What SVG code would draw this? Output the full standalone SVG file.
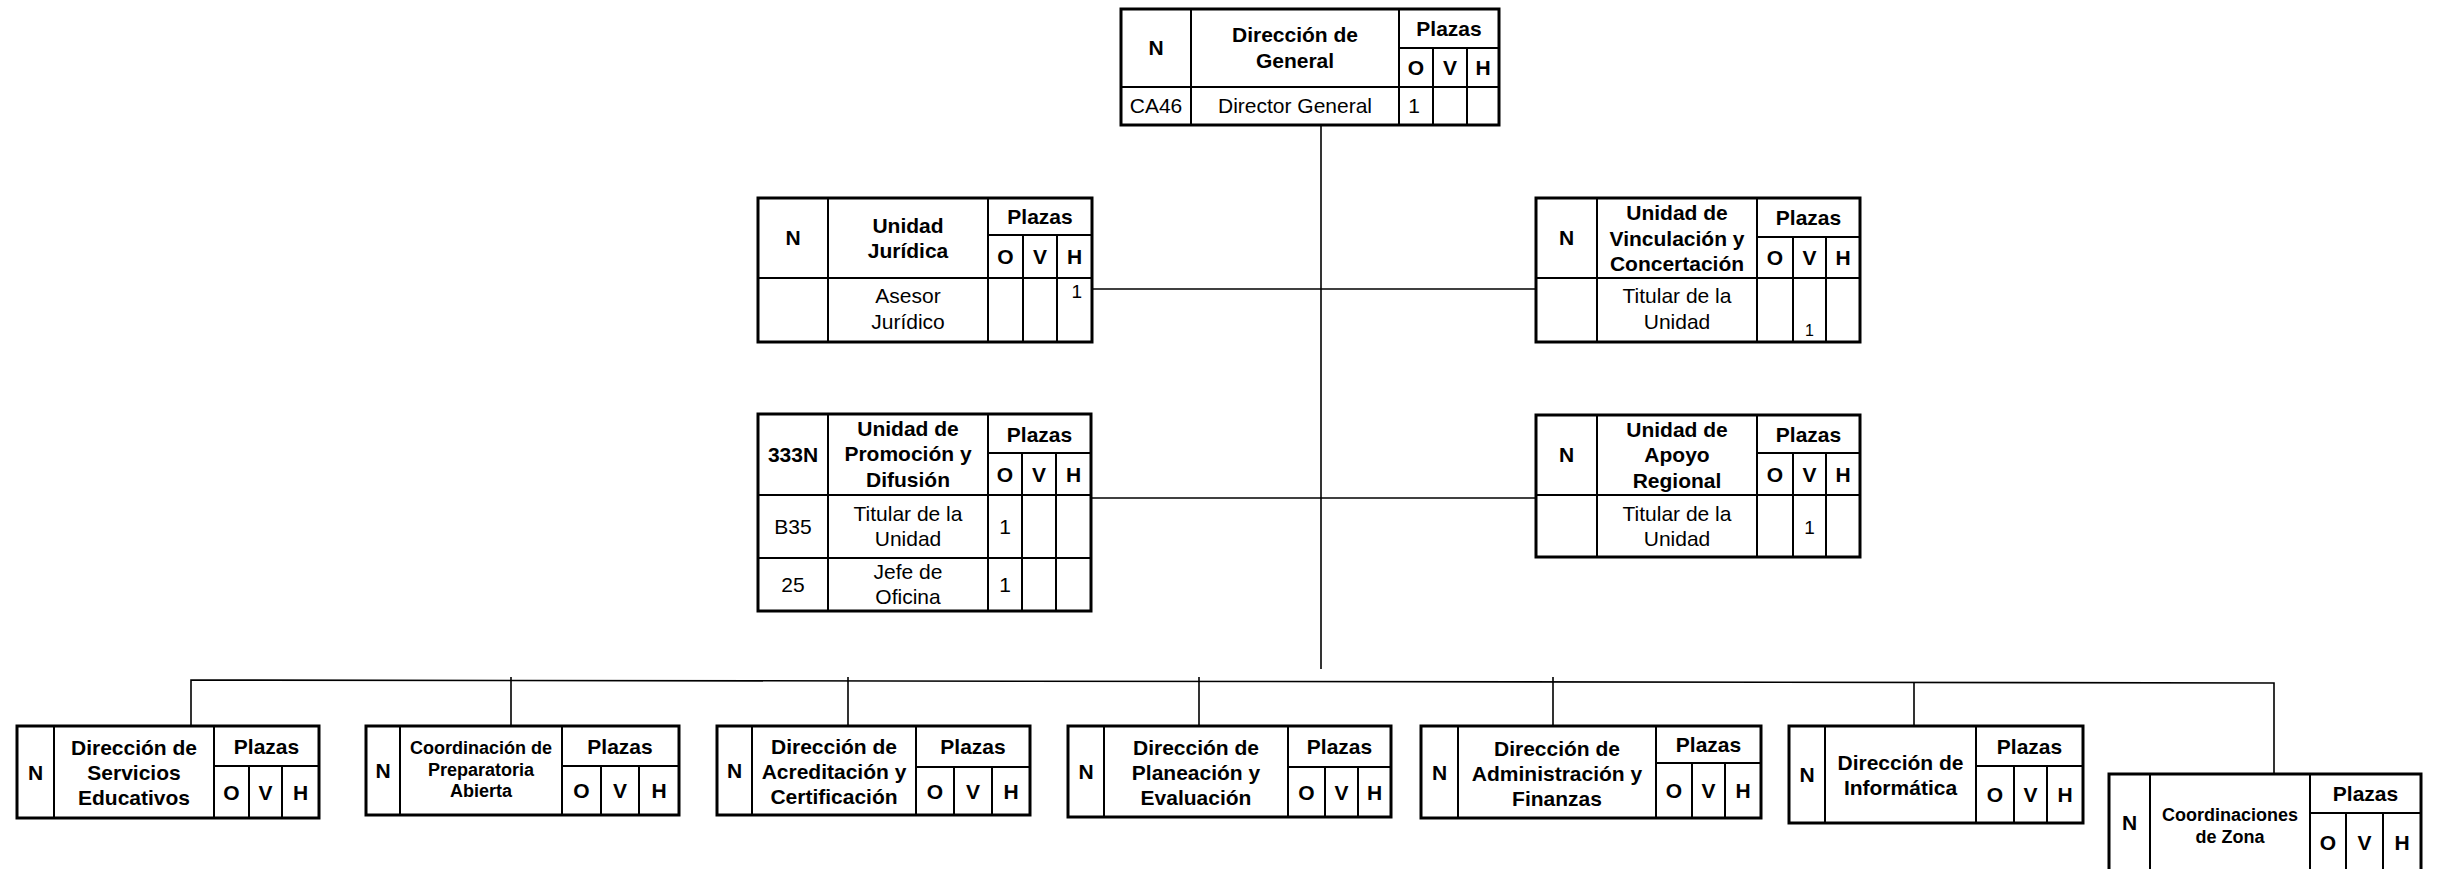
<svg xmlns="http://www.w3.org/2000/svg" width="2441" height="869" viewBox="0 0 2441 869">
<style>
.box{fill:#fff;stroke:#000;stroke-width:3}
.grid{fill:none;stroke:#000;stroke-width:2}
.con{fill:none;stroke:#000;stroke-width:1.6}
text{font-family:"Liberation Sans",Arial,sans-serif;fill:#000;text-anchor:middle}
.b{font-weight:bold;font-size:21px}
.bs{font-weight:bold;font-size:18px}
.r{font-size:21px}
.n{font-size:16px}
</style>
<rect width="2441" height="869" fill="#fff"/>
<g id="connectors">
<path class="con" d="M1321 125V669"/>
<path class="con" d="M1092 289H1536"/>
<path class="con" d="M1091 498H1536"/>
<path class="con" d="M191 726V680L2274 683V774"/>
<path class="con" d="M511 677V726M848 677V726M1199 677V726M1553 677V726M1914 683V726"/>
</g>
<g id="direccion-general">
<rect class="box" x="1121" y="9" width="378" height="116"/>
<path class="grid" d="M1191 9V125M1399 9V125M1399 48H1499M1121 87H1499M1433 48V125M1467 48V125"/>
<text class="b" x="1156" y="55">N</text>
<text class="b" x="1295" y="42">Dirección de</text>
<text class="b" x="1295" y="68">General</text>
<text class="b" x="1449" y="36">Plazas</text>
<text class="b" x="1416" y="75">O</text>
<text class="b" x="1450" y="75">V</text>
<text class="b" x="1483" y="75">H</text>
<text class="r" x="1156" y="113">CA46</text>
<text class="r" x="1295" y="113">Director General</text>
<text class="r" x="1414" y="113">1</text>
</g>
<g id="unidad-juridica">
<rect class="box" x="758" y="198" width="334" height="144"/>
<path class="grid" d="M828 198V342M988 198V342M988 235H1092M758 278H1092M1023 235V342M1057 235V342"/>
<text class="b" x="793" y="245">N</text>
<text class="b" x="908" y="233">Unidad</text>
<text class="b" x="908" y="258">Jurídica</text>
<text class="b" x="1040" y="224">Plazas</text>
<text class="b" x="1005.5" y="264">O</text>
<text class="b" x="1040" y="264">V</text>
<text class="b" x="1074.5" y="264">H</text>
<text class="r" x="908" y="303">Asesor</text>
<text class="r" x="908" y="329">Jurídico</text>
<text class="r" x="1082" y="298" style="text-anchor:end;font-size:19px">1</text>
</g>
<g id="unidad-vinculacion">
<rect class="box" x="1536" y="198" width="324" height="144"/>
<path class="grid" d="M1597 198V342M1757 198V342M1757 237H1860M1536 278H1860M1793 237V342M1826 237V342"/>
<text class="b" x="1566.5" y="245">N</text>
<text class="b" x="1677" y="220">Unidad de</text>
<text class="b" x="1677" y="246">Vinculación y</text>
<text class="b" x="1677" y="271">Concertación</text>
<text class="b" x="1808.5" y="225">Plazas</text>
<text class="b" x="1775" y="265">O</text>
<text class="b" x="1809.5" y="265">V</text>
<text class="b" x="1843" y="265">H</text>
<text class="r" x="1677" y="303">Titular de la</text>
<text class="r" x="1677" y="329">Unidad</text>
<text class="n" x="1809.5" y="336">1</text>
</g>
<g id="unidad-promocion">
<rect class="box" x="758" y="414" width="333" height="197"/>
<path class="grid" d="M828 414V611M988 414V611M988 453H1091M758 495H1091M758 558H1091M1022 453V611M1056 453V611"/>
<text class="b" x="793" y="462">333N</text>
<text class="b" x="908" y="436">Unidad de</text>
<text class="b" x="908" y="461">Promoción y</text>
<text class="b" x="908" y="487">Difusión</text>
<text class="b" x="1039.5" y="442">Plazas</text>
<text class="b" x="1005" y="482">O</text>
<text class="b" x="1039" y="482">V</text>
<text class="b" x="1073.5" y="482">H</text>
<text class="r" x="793" y="534">B35</text>
<text class="r" x="908" y="521">Titular de la</text>
<text class="r" x="908" y="546">Unidad</text>
<text class="r" x="1005" y="534">1</text>
<text class="r" x="793" y="592">25</text>
<text class="r" x="908" y="579">Jefe de</text>
<text class="r" x="908" y="604">Oficina</text>
<text class="r" x="1005" y="592">1</text>
</g>
<g id="unidad-apoyo">
<rect class="box" x="1536" y="415" width="324" height="142"/>
<path class="grid" d="M1597 415V557M1757 415V557M1757 453H1860M1536 495H1860M1793 453V557M1826 453V557"/>
<text class="b" x="1566.5" y="462">N</text>
<text class="b" x="1677" y="437">Unidad de</text>
<text class="b" x="1677" y="462">Apoyo</text>
<text class="b" x="1677" y="488">Regional</text>
<text class="b" x="1808.5" y="442">Plazas</text>
<text class="b" x="1775" y="482">O</text>
<text class="b" x="1809.5" y="482">V</text>
<text class="b" x="1843" y="482">H</text>
<text class="r" x="1677" y="521">Titular de la</text>
<text class="r" x="1677" y="546">Unidad</text>
<text class="r" x="1809.5" y="534" style="font-size:19px">1</text>
</g>
<g id="servicios-educativos">
<rect class="box" x="17" y="726" width="302" height="92"/>
<path class="grid" d="M54 726V818M214 726V818M214 766H319M249 766V818M282 766V818"/>
<text class="b" x="35.5" y="780">N</text>
<text class="b" x="134" y="755">Dirección de</text>
<text class="b" x="134" y="780">Servicios</text>
<text class="b" x="134" y="805">Educativos</text>
<text class="b" x="266.5" y="754">Plazas</text>
<text class="b" x="231.5" y="800">O</text>
<text class="b" x="265.5" y="800">V</text>
<text class="b" x="300.5" y="800">H</text>
</g>
<g id="preparatoria-abierta">
<rect class="box" x="366" y="726" width="313" height="89"/>
<path class="grid" d="M400 726V815M562 726V815M562 766H679M601 766V815M639 766V815"/>
<text class="b" x="383" y="778">N</text>
<text class="bs" x="481" y="754">Coordinación de</text>
<text class="bs" x="481" y="776">Preparatoria</text>
<text class="bs" x="481" y="797">Abierta</text>
<text class="b" x="620" y="754">Plazas</text>
<text class="b" x="581.5" y="798">O</text>
<text class="b" x="620" y="798">V</text>
<text class="b" x="659" y="798">H</text>
</g>
<g id="acreditacion-certificacion">
<rect class="box" x="717" y="726" width="313" height="89"/>
<path class="grid" d="M752 726V815M916 726V815M916 767H1030M954 767V815M992 767V815"/>
<text class="b" x="734.5" y="778">N</text>
<text class="b" x="834" y="754">Dirección de</text>
<text class="b" x="834" y="779">Acreditación y</text>
<text class="b" x="834" y="804">Certificación</text>
<text class="b" x="973" y="754">Plazas</text>
<text class="b" x="935" y="799">O</text>
<text class="b" x="973" y="799">V</text>
<text class="b" x="1011" y="799">H</text>
</g>
<g id="planeacion-evaluacion">
<rect class="box" x="1068" y="726" width="323" height="91"/>
<path class="grid" d="M1104 726V817M1288 726V817M1288 767H1391M1325 767V817M1358 767V817"/>
<text class="b" x="1086" y="779">N</text>
<text class="b" x="1196" y="755">Dirección de</text>
<text class="b" x="1196" y="780">Planeación y</text>
<text class="b" x="1196" y="805">Evaluación</text>
<text class="b" x="1339.5" y="754">Plazas</text>
<text class="b" x="1306.5" y="800">O</text>
<text class="b" x="1341.5" y="800">V</text>
<text class="b" x="1374.5" y="800">H</text>
</g>
<g id="administracion-finanzas">
<rect class="box" x="1421" y="726" width="340" height="92"/>
<path class="grid" d="M1458 726V818M1656 726V818M1656 763H1761M1692 763V818M1725 763V818"/>
<text class="b" x="1439.5" y="780">N</text>
<text class="b" x="1557" y="756">Dirección de</text>
<text class="b" x="1557" y="781">Administración y</text>
<text class="b" x="1557" y="806">Finanzas</text>
<text class="b" x="1708.5" y="752">Plazas</text>
<text class="b" x="1674" y="798">O</text>
<text class="b" x="1708.5" y="798">V</text>
<text class="b" x="1743" y="798">H</text>
</g>
<g id="informatica">
<rect class="box" x="1789" y="726" width="294" height="97"/>
<path class="grid" d="M1825 726V823M1976 726V823M1976 766H2083M2014 766V823M2047 766V823"/>
<text class="b" x="1807" y="782">N</text>
<text class="b" x="1900.5" y="770">Dirección de</text>
<text class="b" x="1900.5" y="795">Informática</text>
<text class="b" x="2029.5" y="754">Plazas</text>
<text class="b" x="1995" y="802">O</text>
<text class="b" x="2030.5" y="802">V</text>
<text class="b" x="2065" y="802">H</text>
</g>
<g id="coordinaciones-zona">
<rect class="box" x="2109" y="774" width="312" height="130"/>
<path class="grid" d="M2150 774V904M2310 774V904M2310 813H2421M2346 813V904M2383 813V904"/>
<text class="b" x="2129.5" y="830">N</text>
<text class="bs" x="2230" y="821">Coordinaciones</text>
<text class="bs" x="2230" y="843">de Zona</text>
<text class="b" x="2365.5" y="801">Plazas</text>
<text class="b" x="2328" y="850">O</text>
<text class="b" x="2364.5" y="850">V</text>
<text class="b" x="2402" y="850">H</text>
</g>
</svg>
